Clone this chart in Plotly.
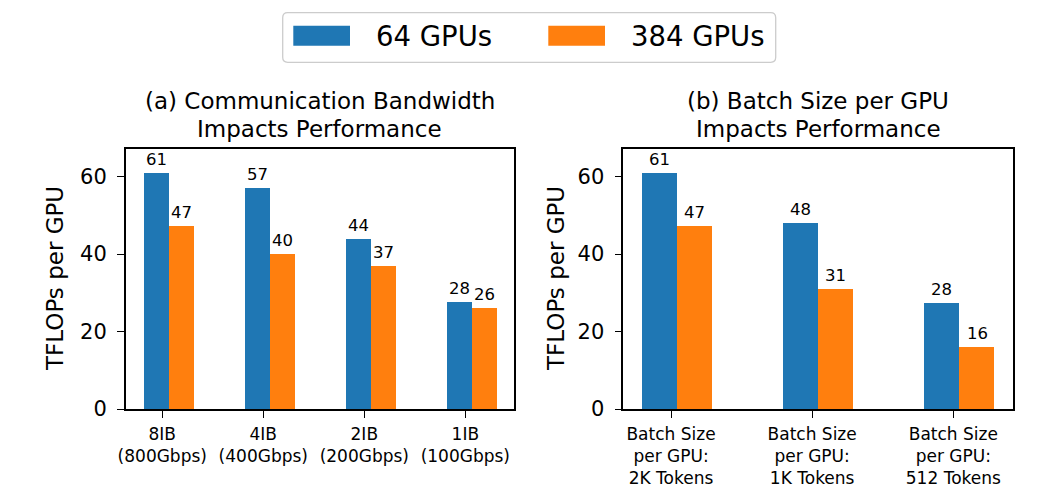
import plotly.graph_objects as go

# ---------------- data ----------------
series_names = ["64 GPUs", "384 GPUs"]
series_colors = ["#1f77b4", "#ff7f0e"]

a_categories = ["8IB<br>(800Gbps)", "4IB<br>(400Gbps)", "2IB<br>(200Gbps)", "1IB<br>(100Gbps)"]
a_gpu64 = [61, 57, 44, 27.7]
a_gpu384 = [47.3, 40, 37, 26]
a_labels64 = ["61", "57", "44", "28"]
a_labels384 = ["47", "40", "37", "26"]

b_categories = ["Batch Size<br>per GPU:<br>2K Tokens",
                "Batch Size<br>per GPU:<br>1K Tokens",
                "Batch Size<br>per GPU:<br>512 Tokens"]
b_gpu64 = [61, 48, 27.4]
b_gpu384 = [47.3, 31, 16]
b_labels64 = ["61", "48", "28"]
b_labels384 = ["47", "31", "16"]

y_ticks = [0, 20, 40, 60]
title_a = ["(a) Communication Bandwidth", "Impacts Performance"]
title_b = ["(b) Batch Size per GPU", "Impacts Performance"]
y_title = "TFLOPs per GPU"

# ---------------- layout helpers ----------------
W, H = 1050, 502
FONT = "DejaVu Sans"


def px(x):
    return x / W


def py(y):
    return 1 - y / H


fig = go.Figure()
annotations = []

panels = [
    dict(cats=a_categories, v64=a_gpu64, v384=a_gpu384, l64=a_labels64, l384=a_labels384,
         xa="x", ya="y", off=(-0.058, 0.19), width=0.248),
    dict(cats=b_categories, v64=b_gpu64, v384=b_gpu384, l64=b_labels64, l384=b_labels384,
         xa="x2", ya="y2", off=(-0.081, 0.168), width=0.25),
]

for p in panels:
    n = len(p["cats"])
    for k, (vals, labs) in enumerate([(p["v64"], p["l64"]), (p["v384"], p["l384"])]):
        xs = [i + p["off"][k] for i in range(n)]
        fig.add_trace(go.Bar(
            x=xs, y=vals, width=p["width"], name=series_names[k],
            marker=dict(color=series_colors[k], line=dict(width=0)),
            xaxis=p["xa"], yaxis=p["ya"], showlegend=False,
        ))
        for xv, yv, t in zip(xs, vals, labs):
            annotations.append(dict(
                x=xv, y=yv, xref=p["xa"], yref=p["ya"], text=t, showarrow=False,
                yanchor="bottom", xanchor="center", yshift=2,
                font=dict(family=FONT, size=16.5, color="black"),
            ))

axis_common = dict(
    showline=True, linecolor="black", linewidth=1.5, mirror=True,
    ticks="outside", ticklen=7, tickwidth=1.3, tickcolor="black",
    showgrid=False, zeroline=False, automargin=False,
)

fig.update_layout(
    width=W, height=H, autosize=False,
    margin=dict(l=0, r=0, t=0, b=0, pad=0, autoexpand=False),
    paper_bgcolor="white", plot_bgcolor="white",
    barmode="overlay", bargap=0,
    font=dict(family=FONT, color="black"),
    xaxis=dict(axis_common, domain=[px(125.7), px(514)], range=[-0.362, 3.482],
               tickvals=list(range(len(a_categories))), ticktext=a_categories,
               tickfont=dict(family=FONT, size=17), ticklabelstandoff=2),
    yaxis=dict(axis_common, domain=[py(409), py(149)], range=[0, 67.1], tickvals=y_ticks,
               tickfont=dict(family=FONT, size=21), ticklabelstandoff=6),
    xaxis2=dict(axis_common, domain=[px(623.3), px(1013.3)], range=[-0.338, 2.425], anchor="y2",
                tickvals=list(range(len(b_categories))), ticktext=b_categories,
                tickfont=dict(family=FONT, size=17), ticklabelstandoff=2),
    yaxis2=dict(axis_common, domain=[py(409), py(149)], range=[0, 67.1], tickvals=y_ticks, anchor="x2",
                tickfont=dict(family=FONT, size=21), ticklabelstandoff=6),
)

# titles
for cx, lines in [((125.7 + 514) / 2, title_a), ((623.3 + 1013.3) / 2, title_b)]:
    for ly, line in zip([101, 129], lines):
        annotations.append(dict(x=px(cx), y=py(ly), xref="paper", yref="paper", text=line,
                                showarrow=False, xanchor="center", yanchor="middle",
                                font=dict(family=FONT, size=23, color="black")))

# y-axis titles
for cx in [55, 556]:
    annotations.append(dict(x=px(cx), y=py(279), xref="paper", yref="paper", text=y_title,
                            showarrow=False, textangle=-90, xanchor="center", yanchor="middle",
                            font=dict(family=FONT, size=23, color="black")))

# manual legend (wide patches like the reference)
shapes = []
x0, x1, y0, y1 = px(282.7), px(775.7), py(62.3), py(12.7)
rx, ry = 5 / W, 5 / H
path = (f"M {x0+rx},{y0} L {x1-rx},{y0} Q {x1},{y0} {x1},{y0+ry} "
        f"L {x1},{y1-ry} Q {x1},{y1} {x1-rx},{y1} L {x0+rx},{y1} Q {x0},{y1} {x0},{y1-ry} "
        f"L {x0},{y0+ry} Q {x0},{y0} {x0+rx},{y0} Z")
shapes.append(dict(type="path", xref="paper", yref="paper", path=path,
                   line=dict(color="#cccccc", width=1.3), fillcolor="rgba(255,255,255,0.8)"))
for (pl, pr, tx), name, col in zip([(293.3, 350, 374), (548.3, 605, 629)], series_names, series_colors):
    shapes.append(dict(type="rect", xref="paper", yref="paper", x0=px(pl), x1=px(pr),
                       y0=py(45.7), y1=py(25.7), fillcolor=col, line=dict(width=0)))
    annotations.append(dict(x=px(tx), y=py(36), xref="paper", yref="paper", text=name,
                            showarrow=False, xanchor="left", yanchor="middle",
                            font=dict(family=FONT, size=27.5, color="black")))

fig.update_layout(annotations=annotations, shapes=shapes)
fig.write_html("out.html")
